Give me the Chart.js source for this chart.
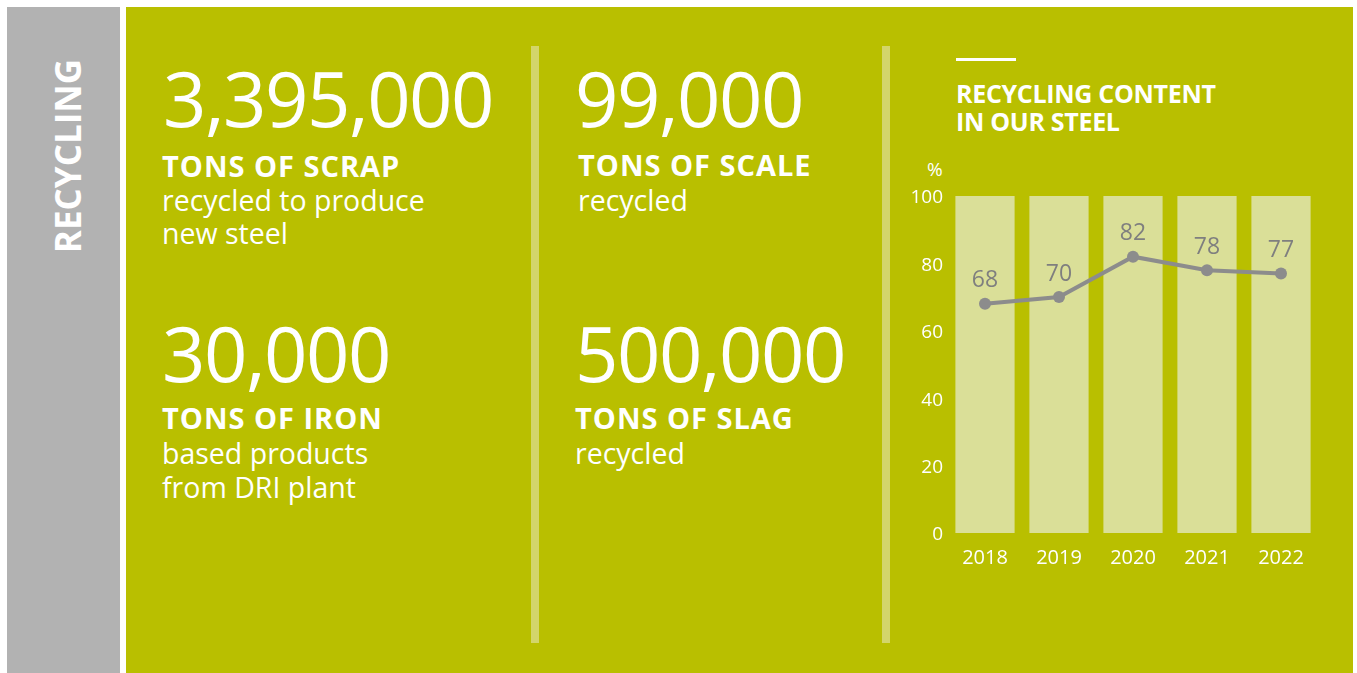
<!DOCTYPE html>
<html lang="en">
<head>
    <meta charset="utf-8" />
    <title>Recycling</title>
    <script src="https://cdn.jsdelivr.net/npm/chart.js"></script>
    <style>
        body { margin: 0; width: 1357px; height: 673px; background: #fff; position: relative; overflow: hidden; font-family: "Open Sans", sans-serif; color: #fff; }
        .side { position: absolute; left: 7px; top: 7px; width: 113px; height: 666px; background: #b2b2b2; }
        .side span { position: absolute; left: 60px; top: 149px; transform: translate(-50%, -50%) rotate(-90deg); font-weight: 700; font-size: 35px; line-height: 1; white-space: nowrap; }
        .panel { position: absolute; left: 126px; top: 7px; width: 1227px; height: 666px; background: #b9bf00; }
        .divider { position: absolute; top: 46px; width: 8px; height: 597px; background: #d3d56a; }
        .t { position: absolute; line-height: 1; white-space: nowrap; }
        .big { font-size: 76px; letter-spacing: -1.5px; }
        .head { font-size: 29px; font-weight: 700; letter-spacing: 1px; }
        .sub { font-size: 28.5px; }
        .rule { position: absolute; left: 956px; top: 58px; width: 60px; height: 3px; background: #fff; }
        .title { font-size: 25px; font-weight: 700; letter-spacing: -0.3px; }
        #chartWrap { position: absolute; left: 890px; top: 150px; width: 445px; height: 430px; }
    </style>
</head>
<body>
    <div class="side"><span>RECYCLING</span></div>
    <div class="panel"></div>
    <div class="divider" style="left:531px"></div>
    <div class="divider" style="left:882px"></div>

    <div class="t big" style="left:163px; top:60px">3,395,000</div>
    <div class="t head" style="left:162px; top:151px">TONS OF SCRAP</div>
    <div class="t sub" style="left:162px; top:186px">recycled to produce</div>
    <div class="t sub" style="left:162px; top:219px">new steel</div>

    <div class="t big" style="left:162px; top:315px">30,000</div>
    <div class="t head" style="left:162px; top:403px">TONS OF IRON</div>
    <div class="t sub" style="left:162px; top:439px">based products</div>
    <div class="t sub" style="left:162px; top:473px">from DRI plant</div>

    <div class="t big" style="left:575px; top:60px">99,000</div>
    <div class="t head" style="left:578px; top:150px">TONS OF SCALE</div>
    <div class="t sub" style="left:578px; top:186px">recycled</div>

    <div class="t big" style="left:575px; top:315px">500,000</div>
    <div class="t head" style="left:575px; top:403px">TONS OF SLAG</div>
    <div class="t sub" style="left:575px; top:439px">recycled</div>

    <div class="rule"></div>
    <div class="t title" style="left:956px; top:81px">RECYCLING CONTENT</div>
    <div class="t title" style="left:956px; top:109px">IN OUR STEEL</div>
    <div class="t" style="left:927px; top:160px; font-size:19px">%</div>

    <div id="chartWrap"><canvas id="recyclingChart"></canvas></div>

    <script>
        const years = ['2018', '2019', '2020', '2021', '2022'];
        const recycledShare = [68, 70, 82, 78, 77];
        const fullScale = [100, 100, 100, 100, 100];

        // value labels above the line points
        const pointLabels = {
            id: 'pointLabels',
            afterDatasetsDraw(chart) {
                const ctx = chart.ctx;
                const meta = chart.getDatasetMeta(0);
                ctx.save();
                ctx.font = '23px "Open Sans", sans-serif';
                ctx.fillStyle = '#7f7f7f';
                ctx.textAlign = 'center';
                ctx.textBaseline = 'middle';
                meta.data.forEach((pt, i) => {
                    ctx.fillText(recycledShare[i], pt.x, pt.y - 23);
                });
                ctx.restore();
            }
        };

        const ctx = document.getElementById('recyclingChart').getContext('2d');
        new Chart(ctx, {
            type: 'bar',
            data: {
                labels: years,
                datasets: [{
                    type: 'line',
                    data: recycledShare,
                    borderColor: '#8c8c8c',
                    backgroundColor: '#8c8c8c',
                    borderWidth: 4,
                    pointRadius: 6,
                    pointBorderWidth: 0,
                    tension: 0,
                    order: 0
                }, {
                    type: 'bar',
                    data: fullScale,
                    backgroundColor: '#dadf98',
                    barPercentage: 0.8,
                    categoryPercentage: 1,
                    order: 1
                }]
            },
            options: {
                responsive: true,
                maintainAspectRatio: false,
                animation: false,
                layout: { padding: { top: 46, right: 17, left: 0, bottom: 0 } },
                plugins: { legend: { display: false }, tooltip: { enabled: false } },
                scales: {
                    x: {
                        grid: { display: false, drawTicks: false },
                        border: { display: false },
                        ticks: { color: '#fff', font: { family: 'Open Sans', size: 20 }, padding: 13, maxRotation: 0 },
                        afterFit(scale) { scale.height = 47; }
                    },
                    y: {
                        min: 0,
                        max: 100,
                        grid: { display: false, drawTicks: false },
                        border: { display: false },
                        ticks: { stepSize: 20, color: '#fff', font: { family: 'Open Sans', size: 19 }, padding: 5, labelOffset: 2 },
                        afterFit(scale) { scale.width = 58; }
                    }
                }
            },
            plugins: [pointLabels]
        });
    </script>
</body>
</html>
